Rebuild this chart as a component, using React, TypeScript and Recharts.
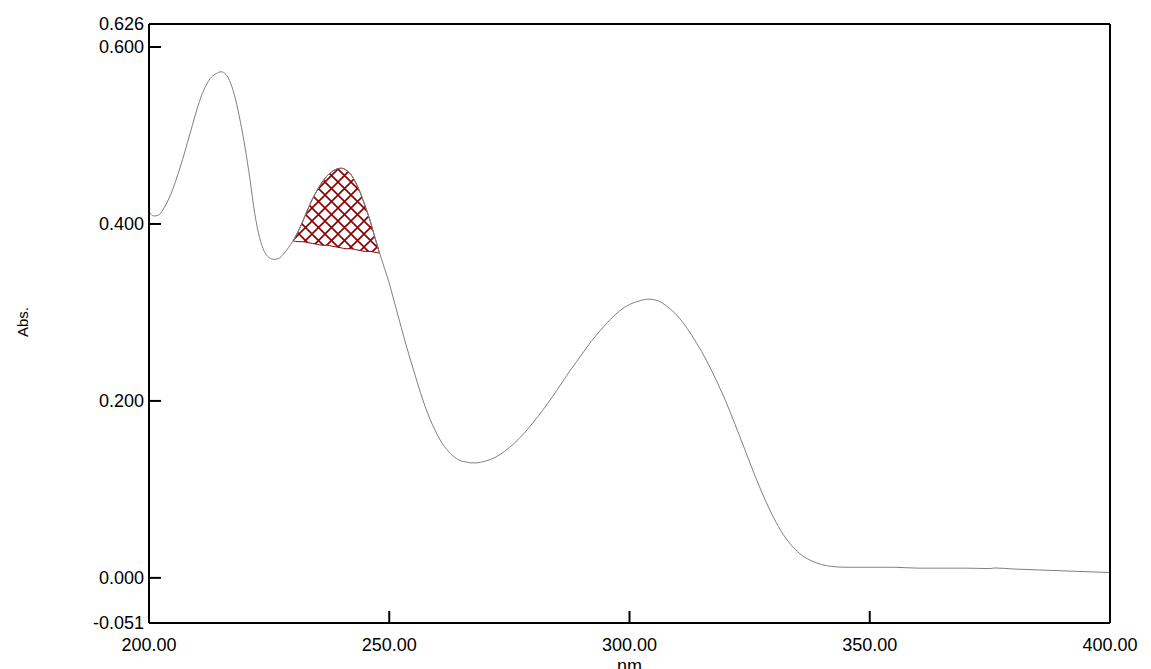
import { ComposedChart, Line, Area, XAxis, YAxis } from 'recharts'

// wavelength (nm) and absorbance
const wavelengths = [
  200, 201, 202, 203, 204, 205, 206, 207, 208, 209, 210, 211, 212, 213, 214, 215, 216, 217, 218, 219,
  220, 221, 222, 223, 224, 225, 226, 227, 228, 229, 230, 231, 232, 233, 234, 235, 236, 237, 238, 239,
  240, 241, 242, 243, 244, 245, 246, 247, 248, 249, 250, 251, 252, 253, 254, 255, 256, 257, 258, 259,
  260, 261, 262, 263, 264, 265, 266, 267, 268, 270, 272, 274, 276, 278, 280, 282, 284, 286, 288, 290,
  292, 294, 296, 298, 300, 302, 304, 306, 308, 310, 312, 314, 316, 318, 320, 322, 324, 326, 328, 330,
  332, 334, 336, 338, 340, 342, 345, 350, 355, 360, 365, 370, 375, 376, 380, 385, 390, 395, 400,
]
const absorbance = [
  0.414, 0.409, 0.41, 0.417, 0.427, 0.44, 0.456, 0.473, 0.492, 0.511, 0.53, 0.546, 0.558, 0.566, 0.57, 0.572, 0.569, 0.559, 0.541, 0.516,
  0.486, 0.451, 0.412, 0.385, 0.369, 0.362, 0.36, 0.361, 0.366, 0.373, 0.381, 0.391, 0.403, 0.416, 0.428, 0.438, 0.447, 0.454, 0.459, 0.462,
  0.463, 0.461, 0.456, 0.447, 0.435, 0.42, 0.404, 0.385, 0.367, 0.35, 0.333, 0.313, 0.293, 0.273, 0.254, 0.236, 0.218, 0.201, 0.186, 0.173,
  0.162, 0.152, 0.145, 0.139, 0.135, 0.132, 0.131, 0.13, 0.13, 0.132, 0.136, 0.143, 0.152, 0.163, 0.176, 0.19, 0.205, 0.221, 0.237, 0.252,
  0.267, 0.28, 0.292, 0.302, 0.309, 0.313, 0.315, 0.313, 0.306, 0.296, 0.282, 0.265, 0.246, 0.224, 0.2, 0.173, 0.145, 0.117, 0.091, 0.068,
  0.049, 0.035, 0.025, 0.019, 0.015, 0.013, 0.012, 0.012, 0.012, 0.011, 0.011, 0.011, 0.0105, 0.0112, 0.01, 0.009, 0.008, 0.007, 0.006,
]

// hatched peak area: 230–248 nm, baseline drawn between the two end points
const peakStart = 230
const peakEnd = 248
const peakBaseline = [
  0.381, 0.38, 0.38, 0.379, 0.378, 0.377, 0.376, 0.376, 0.375, 0.374,
  0.373, 0.372, 0.372, 0.371, 0.37, 0.369, 0.369, 0.368, 0.367,
]

const xTicks = [200, 250, 300, 350, 400]
const yTicks = [-0.051, 0, 0.2, 0.4, 0.6, 0.626]

const rows = wavelengths.map((nm, i) => {
  const inPeak = nm >= peakStart && nm <= peakEnd
  return {
    nm,
    abs: absorbance[i],
    peak: inPeak ? [peakBaseline[nm - peakStart], absorbance[i]] : null,
  }
})

const FONT = '"Liberation Sans", Arial, sans-serif'
const tickStyle = { fontSize: 18, fill: '#000', fontFamily: FONT }
const frame = { stroke: '#000', strokeWidth: 2 }
const tickLn = { stroke: '#000', strokeWidth: 2 }

export default function App() {
  return (
    <div style={{ position: 'absolute', left: 0, top: 0, background: '#fff' }}>
      <ComposedChart
        width={1151}
        height={669}
        data={rows}
        margin={{ top: 23, right: 40, bottom: 0, left: 0 }}
      >
        <defs>
          <pattern id="xhatch" width="13" height="13" patternUnits="userSpaceOnUse">
            <path d="M0,0 L13,13 M13,0 L0,13" stroke="#8B0000" strokeWidth="1.6" />
          </pattern>
        </defs>
        <XAxis
          xAxisId="b"
          dataKey="nm"
          type="number"
          domain={[200, 400]}
          ticks={xTicks}
          interval={0}
          height={46}
          tickSize={-12}
          tickMargin={27}
          tick={tickStyle}
          tickLine={tickLn}
          axisLine={frame}
          tickFormatter={(v: number) => v.toFixed(2)}
          label={{ value: 'nm', position: 'insideBottom', offset: -3, fontSize: 18, fill: '#000', fontFamily: FONT }}
        />
        <XAxis
          xAxisId="t"
          dataKey="nm"
          type="number"
          orientation="top"
          domain={[200, 400]}
          ticks={xTicks}
          interval={0}
          height={1}
          tickSize={-12}
          tick={false}
          tickLine={tickLn}
          axisLine={frame}
        />
        <YAxis
          yAxisId="l"
          type="number"
          domain={[-0.051, 0.626]}
          ticks={yTicks}
          interval={0}
          width={149}
          tickSize={-12}
          tickMargin={17}
          tick={tickStyle}
          tickLine={tickLn}
          axisLine={frame}
          tickFormatter={(v: number) => v.toFixed(3)}
        />
        <YAxis
          yAxisId="r"
          type="number"
          orientation="right"
          domain={[-0.051, 0.626]}
          ticks={yTicks}
          interval={0}
          width={1}
          tickSize={-12}
          tick={false}
          tickLine={tickLn}
          axisLine={frame}
        />
        <Line
          xAxisId="b"
          yAxisId="l"
          dataKey="abs"
          type="monotone"
          stroke="#808080"
          strokeWidth={1}
          dot={false}
          activeDot={false}
          isAnimationActive={false}
        />
        <Area
          xAxisId="b"
          yAxisId="l"
          dataKey="peak"
          type="monotone"
          stroke="#8B0000"
          strokeWidth={1}
          fill="url(#xhatch)"
          fillOpacity={1}
          dot={false}
          activeDot={false}
          isAnimationActive={false}
        />
        <text
          x={22}
          y={322}
          transform="rotate(-90 22 322)"
          textAnchor="middle"
          dominantBaseline="central"
          fontSize={15}
          fontFamily={FONT}
          fill="#000"
        >
          Abs.
        </text>
      </ComposedChart>
    </div>
  )
}
